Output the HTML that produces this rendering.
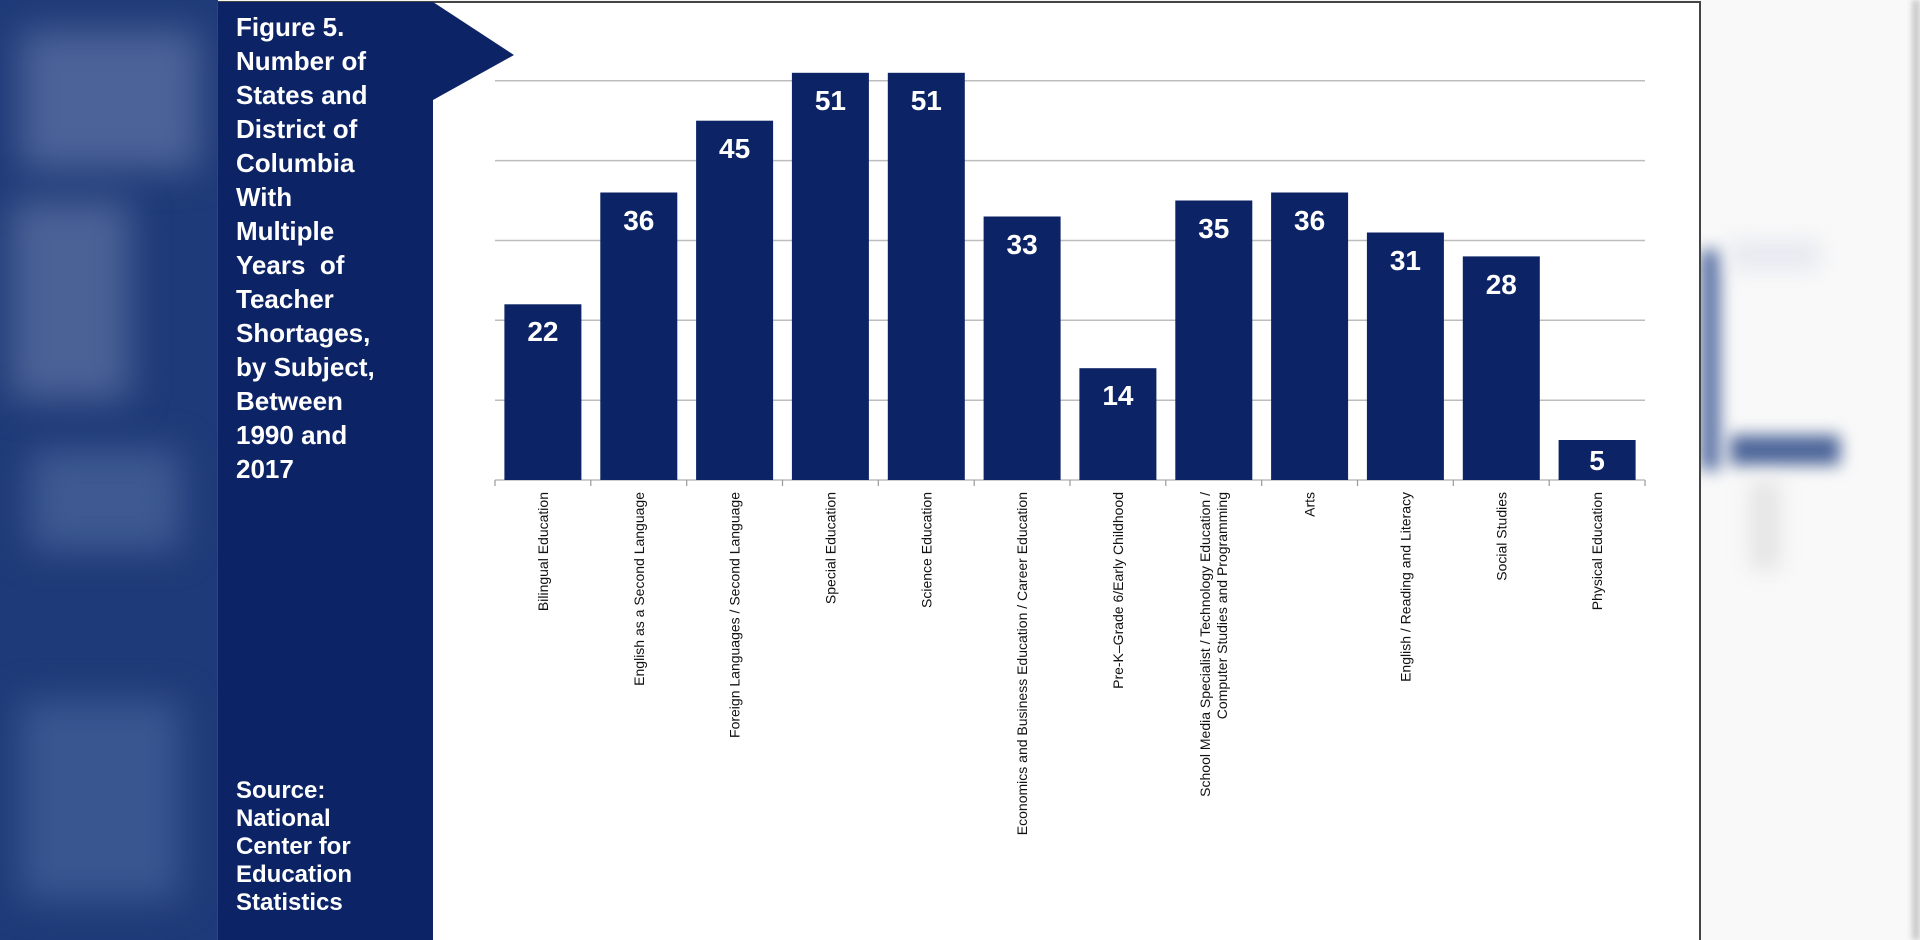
<!DOCTYPE html>
<html><head><meta charset="utf-8"><style>
html,body{margin:0;padding:0;width:1920px;height:940px;overflow:hidden;background:#f7f7f7;}
.bl{position:absolute;filter:blur(18px);}
</style></head><body>
<div style="position:absolute;left:0;top:0;width:218px;height:940px;background:#1f3a78;overflow:hidden;">
 <div class="bl" style="left:20px;top:30px;width:180px;height:140px;background:#4b6398;"></div>
 <div class="bl" style="left:10px;top:200px;width:120px;height:200px;background:#4a6296;"></div>
 <div class="bl" style="left:30px;top:450px;width:150px;height:100px;background:#3f5a92;"></div>
 <div class="bl" style="left:20px;top:700px;width:160px;height:200px;background:#3a5690;"></div>
</div>
<div style="position:absolute;left:1700px;top:0;width:220px;height:940px;background:#f9f9f9;overflow:hidden;">
 <div class="bl" style="left:0;top:250px;width:20px;height:220px;background:#5a72a4;filter:blur(8px)"></div>
 <div class="bl" style="left:30px;top:240px;width:90px;height:30px;background:#e6e9f0;filter:blur(10px)"></div>
 <div class="bl" style="left:30px;top:435px;width:110px;height:30px;background:#4d6699;filter:blur(8px)"></div>
 <div class="bl" style="left:50px;top:480px;width:30px;height:90px;background:#e4e4e4;filter:blur(10px)"></div>
 <div style="position:absolute;right:0;top:0;width:8px;height:940px;background:#c9c9c9;filter:blur(3px)"></div>
</div>
<svg width="1920" height="940" style="position:absolute;left:0;top:0" font-family="Liberation Sans, Arial, sans-serif">
 <rect x="218" y="2" width="1482" height="940" fill="#fff" stroke="#444" stroke-width="2"/>
 <polygon points="218,2 433,2 514,55 433,100 433,940 218,940" fill="#0c2366"/>
 <g fill="#fff" font-weight="bold" font-size="26">
  <text x="236" y="36">Figure 5.</text>
  <text x="236" y="70">Number of</text>
  <text x="236" y="104">States and</text>
  <text x="236" y="138">District of</text>
  <text x="236" y="172">Columbia</text>
  <text x="236" y="206">With</text>
  <text x="236" y="240">Multiple</text>
  <text x="236" y="274" xml:space="preserve">Years  of</text>
  <text x="236" y="308">Teacher</text>
  <text x="236" y="342">Shortages,</text>
  <text x="236" y="376">by Subject,</text>
  <text x="236" y="410">Between</text>
  <text x="236" y="444">1990 and</text>
  <text x="236" y="478">2017</text>
 </g>
 <g fill="#fff" font-weight="bold" font-size="24">
  <text x="236" y="798">Source:</text>
  <text x="236" y="826">National</text>
  <text x="236" y="854">Center for</text>
  <text x="236" y="882">Education</text>
  <text x="236" y="910">Statistics</text>
 </g>
 <g stroke="#bdbdbd" stroke-width="1.5">
  <line x1="495" y1="80.7" x2="1645" y2="80.7"/>
  <line x1="495" y1="160.6" x2="1645" y2="160.6"/>
  <line x1="495" y1="240.5" x2="1645" y2="240.5"/>
  <line x1="495" y1="320.3" x2="1645" y2="320.3"/>
  <line x1="495" y1="400.2" x2="1645" y2="400.2"/>
  <line x1="495" y1="480" x2="1645" y2="480"/>
 </g>
 <g stroke="#999" stroke-width="1.2">
  <line x1="495" y1="480" x2="495" y2="486"/><line x1="590.8" y1="480" x2="590.8" y2="486"/><line x1="686.7" y1="480" x2="686.7" y2="486"/><line x1="782.5" y1="480" x2="782.5" y2="486"/><line x1="878.3" y1="480" x2="878.3" y2="486"/><line x1="974.2" y1="480" x2="974.2" y2="486"/><line x1="1070" y1="480" x2="1070" y2="486"/><line x1="1165.8" y1="480" x2="1165.8" y2="486"/><line x1="1261.7" y1="480" x2="1261.7" y2="486"/><line x1="1357.5" y1="480" x2="1357.5" y2="486"/><line x1="1453.3" y1="480" x2="1453.3" y2="486"/><line x1="1549.2" y1="480" x2="1549.2" y2="486"/><line x1="1645" y1="480" x2="1645" y2="486"/>
 </g>
 <g fill="#0c2366">
  <rect x="504.4" y="304.3" width="77" height="175.7"/>
  <rect x="600.3" y="192.5" width="77" height="287.5"/>
  <rect x="696.1" y="120.7" width="77" height="359.3"/>
  <rect x="791.9" y="72.8" width="77" height="407.2"/>
  <rect x="887.8" y="72.8" width="77" height="407.2"/>
  <rect x="983.6" y="216.5" width="77" height="263.5"/>
  <rect x="1079.4" y="368.2" width="77" height="111.8"/>
  <rect x="1175.3" y="200.5" width="77" height="279.5"/>
  <rect x="1271.1" y="192.5" width="77" height="287.5"/>
  <rect x="1366.9" y="232.5" width="77" height="247.5"/>
  <rect x="1462.8" y="256.4" width="77" height="223.6"/>
  <rect x="1558.6" y="440" width="77" height="40"/>
 </g>
 <g fill="#fff" font-weight="bold" font-size="28" text-anchor="middle">
  <text x="542.9" y="341">22</text>
  <text x="638.8" y="230">36</text>
  <text x="734.6" y="158">45</text>
  <text x="830.4" y="110">51</text>
  <text x="926.3" y="110">51</text>
  <text x="1022.1" y="254">33</text>
  <text x="1117.9" y="405">14</text>
  <text x="1213.8" y="238">35</text>
  <text x="1309.6" y="230">36</text>
  <text x="1405.4" y="270">31</text>
  <text x="1501.3" y="294">28</text>
  <text x="1597.1" y="470">5</text>
 </g>
 <g fill="#111" font-size="14" text-anchor="end">
  <text transform="translate(548,492) rotate(-90)">Bilingual Education</text>
  <text transform="translate(643.8,492) rotate(-90)">English as a Second Language</text>
  <text transform="translate(739.6,492) rotate(-90)">Foreign Languages / Second Language</text>
  <text transform="translate(835.4,492) rotate(-90)">Special Education</text>
  <text transform="translate(931.3,492) rotate(-90)">Science Education</text>
  <text transform="translate(1027.1,492) rotate(-90)">Economics and Business Education / Career Education</text>
  <text transform="translate(1122.9,492) rotate(-90)">Pre-K–Grade 6/Early Childhood</text>
  <text transform="translate(1210,492) rotate(-90)">School Media Specialist / Technology Education /</text>
  <text transform="translate(1227,492) rotate(-90)">Computer Studies and Programming</text>
  <text transform="translate(1314.6,492) rotate(-90)">Arts</text>
  <text transform="translate(1410.4,492) rotate(-90)">English / Reading and Literacy</text>
  <text transform="translate(1506.3,492) rotate(-90)">Social Studies</text>
  <text transform="translate(1602.1,492) rotate(-90)">Physical Education</text>
 </g>
</svg>
</body></html>
